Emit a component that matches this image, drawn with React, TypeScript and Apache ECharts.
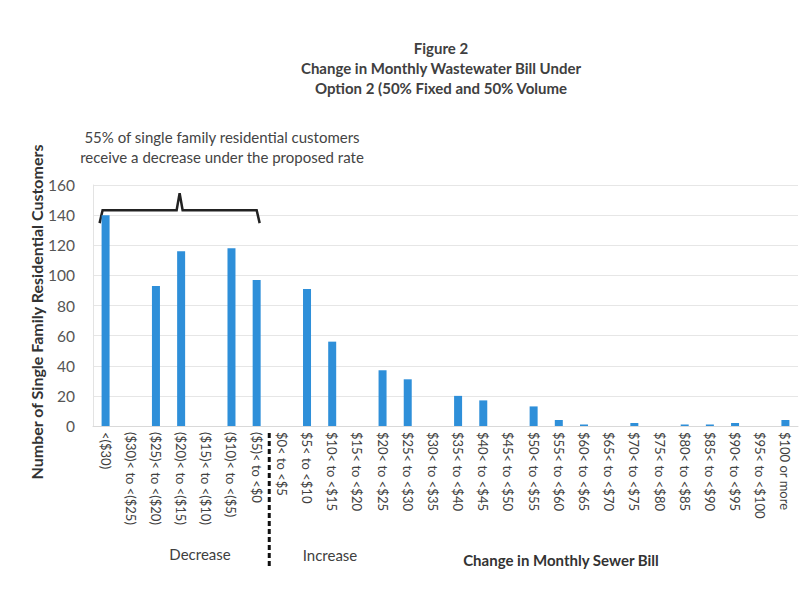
import React, { useEffect, useRef } from "react";
import * as echarts from "echarts";

const categories = [
  "<($30)",
  "($30)< to <($25)",
  "($25)< to <($20)",
  "($20)< to <($15)",
  "($15)< to <($10)",
  "($10)< to <($5)",
  "($5)< to <$0",
  "$0< to <$5",
  "$5< to <$10",
  "$10< to <$15",
  "$15< to <$20",
  "$20< to <$25",
  "$25< to <$30",
  "$30< to <$35",
  "$35< to <$40",
  "$40< to <$45",
  "$45< to <$50",
  "$50< to <$55",
  "$55< to <$60",
  "$60< to <$65",
  "$65< to <$70",
  "$70< to <$75",
  "$75< to <$80",
  "$80< to <$85",
  "$85< to <$90",
  "$90< to <$95",
  "$95< to <$100",
  "$100 or more",
];

const customers = [
  140, 0, 93, 116, 0, 118, 97, 0, 91, 56, 0, 37, 31, 0, 20, 17, 0, 13, 4, 1,
  0, 2, 0, 1, 1, 2, 0, 4,
];

const titleLines = [
  "Figure 2",
  "Change in Monthly Wastewater Bill Under",
  "Option 2 (50% Fixed and 50% Volume",
];
const noteLines = [
  "55% of single family residential customers",
  "receive a decrease under the proposed rate",
];

const FONT = "Lato, 'Open Sans', sans-serif";

export default function App() {
  const ref = useRef<HTMLDivElement>(null);

  useEffect(() => {
    if (!ref.current) return;
    const chart = echarts.init(ref.current, null, { renderer: "svg" });
    chart.setOption({
      animation: false,
      backgroundColor: "#ffffff",
      textStyle: { fontFamily: FONT },
      grid: { left: 93, right: 7, top: 185, bottom: 170, containLabel: false },
      xAxis: {
        type: "category",
        data: categories,
        axisLine: { show: true, lineStyle: { color: "#d9d9d9" } },
        axisTick: { show: false },
        axisLabel: {
          rotate: -90,
          interval: 0,
          margin: 6,
          color: "#404040",
          fontSize: 13,
          fontFamily: FONT,
        },
      },
      yAxis: {
        type: "value",
        min: 0,
        max: 160,
        interval: 20,
        axisLine: { show: true, lineStyle: { color: "#e3e3e3" } },
        axisTick: { show: false },
        splitLine: { lineStyle: { color: "#e6e6e6" } },
        axisLabel: { color: "#555555", fontSize: 15.5, margin: 18, fontFamily: FONT },
      },
      series: [
        {
          type: "bar",
          data: customers,
          barWidth: 8,
          itemStyle: { color: "#2e8fd9" },
        },
      ],
    });

    const [x1] = chart.convertToPixel({ gridIndex: 0 }, [0, 0]) as number[];
    const [x7] = chart.convertToPixel({ gridIndex: 0 }, [6, 0]) as number[];
    const [x8] = chart.convertToPixel({ gridIndex: 0 }, [7, 0]) as number[];
    const [, yTop] = chart.convertToPixel({ gridIndex: 0 }, [0, 140]) as number[];
    const bl = x1 - 6;
    const br = x7 + 3;
    const bm = (bl + br) / 2;
    const by = yTop - 5;
    const divX = (x7 + x8) / 2;

    chart.setOption({
      graphic: [
        ...titleLines.map((t, i) => ({
          type: "text",
          x: 441,
          y: 48 + i * 20,
          style: {
            text: t,
            fill: "#404040",
            font: `bold 15px ${FONT}`,
            textAlign: "center",
            textVerticalAlign: "middle",
          },
        })),
        ...noteLines.map((t, i) => ({
          type: "text",
          x: 222,
          y: 137 + i * 20,
          style: {
            text: t,
            fill: "#444444",
            font: `15px ${FONT}`,
            textAlign: "center",
            textVerticalAlign: "middle",
          },
        })),
        {
          type: "text",
          x: 36,
          y: 312,
          rotation: Math.PI / 2,
          style: {
            text: "Number of Single Family Residential Customers",
            fill: "#333333",
            font: `bold 16px ${FONT}`,
            textAlign: "center",
            textVerticalAlign: "middle",
          },
        },
        // curly bracket over the "decrease" bars
        {
          type: "polyline",
          shape: {
            points: [
              [bl, by + 13],
              [bl + 3, by],
              [bm - 3, by],
              [bm, by - 17],
              [bm + 3, by],
              [br - 3, by],
              [br, by + 13],
            ],
          },
          style: { stroke: "#222222", lineWidth: 2.5, fill: "none" },
        },
        // divider between decrease and increase
        {
          type: "line",
          shape: { x1: divX, y1: 433, x2: divX, y2: 568 },
          style: { stroke: "#111111", lineWidth: 3, lineDash: [5, 3] },
        },
        {
          type: "text",
          x: 200,
          y: 554,
          style: {
            text: "Decrease",
            fill: "#404040",
            font: `15px ${FONT}`,
            textAlign: "center",
            textVerticalAlign: "middle",
          },
        },
        {
          type: "text",
          x: 330,
          y: 555,
          style: {
            text: "Increase",
            fill: "#404040",
            font: `15px ${FONT}`,
            textAlign: "center",
            textVerticalAlign: "middle",
          },
        },
        {
          type: "text",
          x: 561,
          y: 560,
          style: {
            text: "Change in Monthly Sewer Bill",
            fill: "#333333",
            font: `bold 15px ${FONT}`,
            textAlign: "center",
            textVerticalAlign: "middle",
          },
        },
      ],
    });

    return () => chart.dispose();
  }, []);

  return (
    <div
      ref={ref}
      style={{ position: "fixed", left: 0, top: 0, width: 805, height: 596 }}
    />
  );
}
